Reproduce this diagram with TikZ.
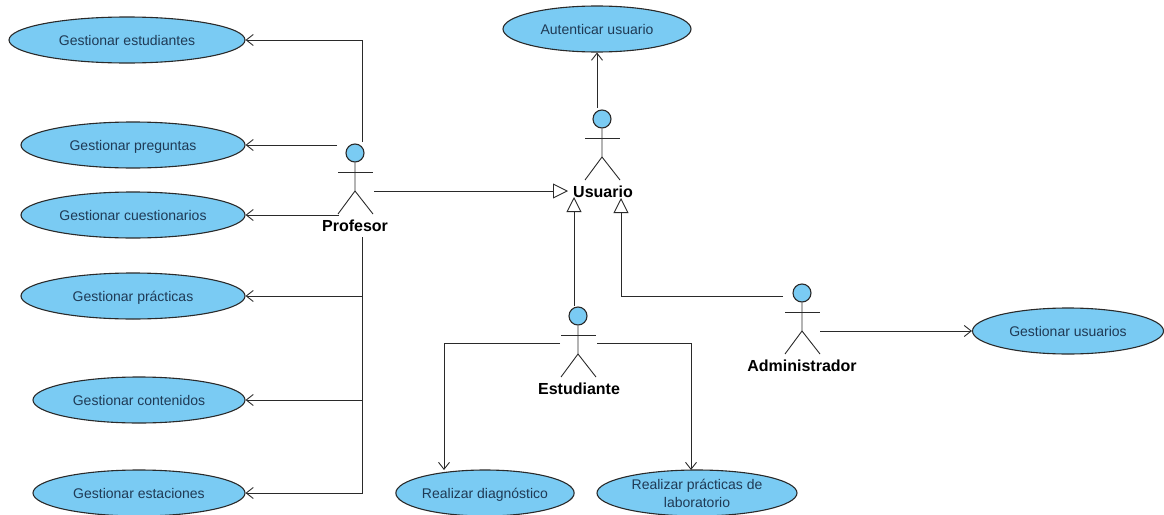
\documentclass[tikz,border=0pt]{standalone}
\usepackage{fontspec}
\setmainfont{Liberation Sans}
\usetikzlibrary{shapes.geometric,arrows.meta}
\definecolor{ucfill}{HTML}{7ACBF3}
\definecolor{uctext}{HTML}{1F3A55}
\definecolor{ucline}{HTML}{2A2A2A}
\tikzset{
  usecase/.style={ellipse,draw=ucline,fill=ucfill,line width=1.1pt,inner sep=0pt,minimum height=46pt,text depth=0pt,text=uctext,font=\fontsize{14}{18}\selectfont,align=center},
  actorhead/.style={circle,draw=ucline,fill=ucfill,line width=1.1pt,minimum size=18pt,inner sep=0pt},
  actorname/.style={font=\fontsize{16}{18}\selectfont\bfseries,text=black,inner sep=0pt},
  assoc/.style={draw=ucline,line width=0.9pt,-{Straight Barb[length=7pt,width=11pt]}},
  gener/.style={draw=ucline,line width=0.9pt,-{Triangle[open,length=15pt,width=15pt,fill=white]}},
  actor/.pic={
    \node[actorhead] (-head) at (0,0) {};
    \draw[ucline,line width=0.9pt] (-head.south) -- (0,38) -- (-17,61);
    \draw[ucline,line width=0.9pt] (0,38) -- (18,61);
    \draw[ucline,line width=0.9pt] (-17,19.5) -- (18,19.5);
  }
}
\begin{document}
\begin{tikzpicture}[x=1pt,y=-1pt]
   \useasboundingbox (0,0) rectangle (1164,514);
   \clip (0,0) rectangle (1164,514);

   % casos de uso
   \node[usecase,minimum width=236pt] (estudiantes) at (127,40) {Gestionar estudiantes};
   \node[usecase,minimum width=224pt] (preguntas) at (133,145) {Gestionar preguntas};
   \node[usecase,minimum width=224pt] (cuestionarios) at (133,215) {Gestionar cuestionarios};
   \node[usecase,minimum width=224pt] (practicas) at (133,296) {Gestionar prácticas};
   \node[usecase,minimum width=212pt] (contenidos) at (139,400) {Gestionar contenidos};
   \node[usecase,minimum width=212pt] (estaciones) at (139,493) {Gestionar estaciones};
   \node[usecase,minimum width=188pt] (autenticar) at (597,29) {Autenticar usuario};
   \node[usecase,minimum width=177pt] (diagnostico) at (485,493) {Realizar diagnóstico};
   \node[usecase,minimum width=200pt] (laboratorio) at (697,493) {Realizar prácticas de\\laboratorio};
   \node[usecase,minimum width=191pt] (usuarios) at (1068,331) {Gestionar usuarios};

   % actores
   \pic (profesor) at (355,153) {actor};
   \node[actorname] (profesorname) at (355,226) {Profesor};
   \pic (usuario) at (602,119) {actor};
   \node[actorname] (usuarioname) at (603,192) {Usuario};
   \pic (estudiante) at (578,316) {actor};
   \node[actorname] (estudiantename) at (579,389) {Estudiante};
   \pic (administrador) at (802,293) {actor};
   \node[actorname] (administradorname) at (802,366) {Administrador};

   % extremos libres
   \coordinate (p1) at (362,142);
   \coordinate (p2) at (337,145);
   \coordinate (p3) at (339,215);
   \coordinate (p4) at (362,237);
   \coordinate (p5) at (374,191);
   \coordinate (g1) at (568,191);
   \coordinate (g2) at (574,197);
   \coordinate (g3) at (621,198);
   \coordinate (e0) at (574,306);
   \coordinate (e1) at (560,343);
   \coordinate (e2) at (597,343);
   \coordinate (e3) at (444,470);
   \coordinate (e4) at (691,470);
   \coordinate (a0) at (783,296);
   \coordinate (a1) at (820,331);
   \coordinate (u0) at (597,108);

   \draw[assoc] (p1) |- (estudiantes.east);
   \draw[assoc] (p2) -- (preguntas.east);
   \draw[assoc] (p3) -- (cuestionarios.east);
   \draw[assoc] (p4) |- (estaciones.east);
   \draw[assoc] (p4 |- practicas.east) -- (practicas.east);
   \draw[assoc] (p4 |- contenidos.east) -- (contenidos.east);
   \draw[assoc] (u0) -- (u0 |- autenticar.south);
   \draw[assoc] (e1) -| (e3);
   \draw[assoc] (e2) -| (e4);
   \draw[assoc] (a1) -- (usuarios.west);

   \draw[gener] (p5) -- (g1);
   \draw[gener] (e0) -- (g2);
   \draw[gener] (a0) -| (g3);

 \end{tikzpicture}
\end{document}
